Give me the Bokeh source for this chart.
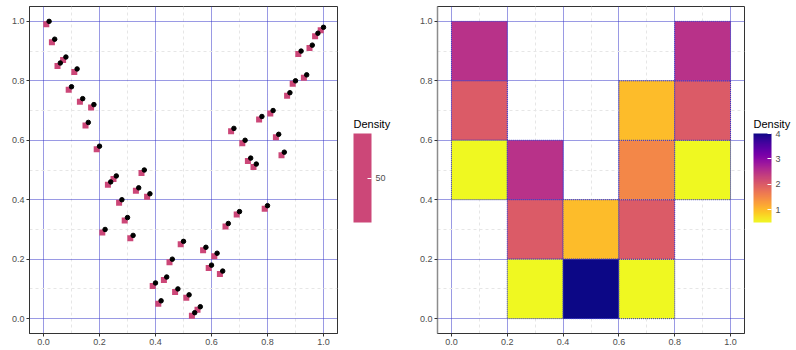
from bokeh.plotting import figure
from bokeh.models import (ColumnDataSource, LinearColorMapper, ColorBar, FixedTicker,
                          Range1d, PrintfTickFormatter)
from bokeh.transform import dodge, transform
from bokeh.layouts import row
from bokeh.palettes import Plasma256
from bokeh.embed import file_html
from bokeh.resources import INLINE

# ---------------- data ----------------
pt_x = [0.02, 0.04, 0.06, 0.08, 0.10, 0.12, 0.14, 0.16, 0.18, 0.20,
        0.22, 0.24, 0.26, 0.28, 0.30, 0.32, 0.34, 0.36, 0.38, 0.40,
        0.42, 0.44, 0.46, 0.48, 0.50, 0.52, 0.54, 0.56, 0.58, 0.60,
        0.62, 0.64, 0.66, 0.68, 0.70, 0.72, 0.74, 0.76, 0.78, 0.80,
        0.82, 0.84, 0.86, 0.88, 0.90, 0.92, 0.94, 0.96, 0.98, 1.00]
pt_y = [1.00, 0.94, 0.86, 0.88, 0.78, 0.84, 0.74, 0.66, 0.72, 0.58,
        0.30, 0.46, 0.48, 0.40, 0.34, 0.28, 0.44, 0.50, 0.42, 0.12,
        0.06, 0.14, 0.20, 0.10, 0.26, 0.08, 0.02, 0.04, 0.24, 0.18,
        0.22, 0.16, 0.32, 0.64, 0.36, 0.60, 0.54, 0.52, 0.68, 0.38,
        0.70, 0.62, 0.56, 0.76, 0.80, 0.90, 0.82, 0.92, 0.96, 0.98]
pt_density = [50, 50, 50, 50, 50, 50, 50, 50, 50, 50,
              50, 50, 50, 50, 50, 50, 50, 50, 50, 50,
              50, 50, 50, 50, 50, 50, 50, 50, 50, 50,
              50, 50, 50, 50, 50, 50, 50, 50, 50, 50,
              50, 50, 50, 50, 50, 50, 50, 50, 50, 50]

tile_x = [0.1, 0.1, 0.1, 0.3, 0.3, 0.3, 0.5, 0.5, 0.7, 0.7, 0.7, 0.7, 0.9, 0.9, 0.9]
tile_y = [0.9, 0.7, 0.5, 0.5, 0.3, 0.1, 0.3, 0.1, 0.1, 0.3, 0.5, 0.7, 0.5, 0.7, 0.9]
tile_density = [2.5, 2.0, 0.5, 2.5, 2.0, 0.5, 1.0, 4.0, 0.5, 2.0, 1.5, 1.0, 0.5, 2.0, 2.5]
tile_size = 0.2

major_ticks = [0.0, 0.2, 0.4, 0.6, 0.8, 1.0]
minor_ticks = [0.1, 0.3, 0.5, 0.7, 0.9]
pt_legend_ticks = [50]
tile_legend_ticks = [1, 2, 3, 4]
legend_title = "Density"

FONT = "Liberation Sans"
LABEL_COLOR = "#4D4D4D"
GRID_COLOR = "#3434C8"
X0, X1 = -0.05, 1.05

FRAME_H = 327
CB_BOTTOM = 111
CB_H = 89


def style(p, left_axis_color="#333333"):
    p.background_fill_color = "white"
    p.border_fill_color = "white"
    p.outline_line_color = "#333333"
    p.outline_line_width = 1
    for ax in (p.xaxis[0], p.yaxis[0]):
        ax.ticker = FixedTicker(ticks=major_ticks, minor_ticks=minor_ticks)
        ax.formatter = PrintfTickFormatter(format="%.1f")
        ax.major_label_text_font = FONT
        ax.major_label_text_font_size = "9px"
        ax.major_label_text_color = LABEL_COLOR
        ax.major_tick_line_color = "#333333"
        ax.major_tick_out = 3
        ax.major_tick_in = 0
        ax.minor_tick_line_color = None
        ax.major_label_standoff = 1
        ax.axis_line_color = "#333333"
    p.yaxis[0].axis_line_color = left_axis_color
    for g in (p.xgrid[0], p.ygrid[0]):
        g.ticker = FixedTicker(ticks=major_ticks, minor_ticks=minor_ticks)
        g.grid_line_color = GRID_COLOR
        g.grid_line_alpha = 1.0
        g.grid_line_dash = "1 1"
        g.grid_line_width = 1
        g.minor_grid_line_color = "#E6E6E6"
        g.minor_grid_line_dash = "3 3"
        g.minor_grid_line_width = 1


def add_colorbar(p, mapper, ticks, gap):
    frame_w = p.frame_width
    cb = ColorBar(color_mapper=mapper, ticker=FixedTicker(ticks=ticks),
                  width=18, height=CB_H, location=(frame_w + gap, CB_BOTTOM), title=None,
                  major_label_text_font=FONT, major_label_text_font_size="9px",
                  major_label_text_color=LABEL_COLOR,
                  major_tick_line_color="white", major_tick_in=4, major_tick_out=0,
                  label_standoff=4, margin=0, padding=0,
                  bar_line_color=None, border_line_color=None,
                  background_fill_color=None)
    p.add_layout(cb, "center")
    # horizontal title above the bar: a second, invisible horizontal colour bar
    # whose only visible part is its (horizontal) title
    cbt = ColorBar(color_mapper=mapper, orientation="horizontal",
                   ticker=FixedTicker(ticks=[]), width=40, height=1,
                   location=(frame_w + gap, CB_BOTTOM + CB_H + 3),
                   title=legend_title, title_text_font=FONT, title_text_font_size="11px",
                   title_text_font_style="normal", title_text_color="black",
                   title_standoff=0, scale_alpha=0,
                   major_label_text_font_size="1px", major_label_text_alpha=0,
                   major_tick_line_color=None, minor_tick_line_color=None,
                   label_standoff=0, margin=0, padding=0,
                   bar_line_color=None, border_line_color=None,
                   background_fill_color=None)
    p.add_layout(cbt, "center")


# ---------------- left panel ----------------
src_pts = ColumnDataSource(dict(x=pt_x, y=pt_y, density=pt_density))
pt_mapper = LinearColorMapper(palette=["#CC4778"], low=49, high=51)

p1 = figure(frame_width=308, frame_height=FRAME_H, output_backend="svg", toolbar_location=None,
            x_range=Range1d(X0, X1), y_range=Range1d(X0, X1),
            min_border_left=29, min_border_right=63, min_border_top=6, min_border_bottom=16)
style(p1)
p1.scatter(x=dodge("x", -0.01, range=p1.x_range), y=dodge("y", -0.01, range=p1.y_range),
           source=src_pts, marker="square", size=6,
           fill_color=transform("density", pt_mapper), line_color=None)
p1.scatter(x="x", y="y", source=src_pts, marker="circle", size=4.5,
           fill_color="black", line_color="black")
add_colorbar(p1, pt_mapper, pt_legend_ticks, 16)

# ---------------- right panel ----------------
src_tiles = ColumnDataSource(dict(x=tile_x, y=tile_y, density=tile_density))
tile_mapper = LinearColorMapper(palette=list(reversed(Plasma256)),
                                low=min(tile_density), high=max(tile_density))

p2 = figure(frame_width=307, frame_height=FRAME_H, output_backend="svg", toolbar_location=None,
            x_range=Range1d(X0, X1), y_range=Range1d(X0, X1),
            min_border_left=37, min_border_right=51, min_border_top=6, min_border_bottom=16)
style(p2, left_axis_color="#8C8C8C")
p2.yaxis[0].axis_line_width = 1.5
p2.rect(x="x", y="y", width=tile_size, height=tile_size, source=src_tiles,
        fill_color=transform("density", tile_mapper), line_color=GRID_COLOR,
        line_dash="1 1", line_width=1)
add_colorbar(p2, tile_mapper, tile_legend_ticks, 9)

layout = row(p1, p2, spacing=0)
open("out.html", "w").write(file_html(layout, INLINE))
